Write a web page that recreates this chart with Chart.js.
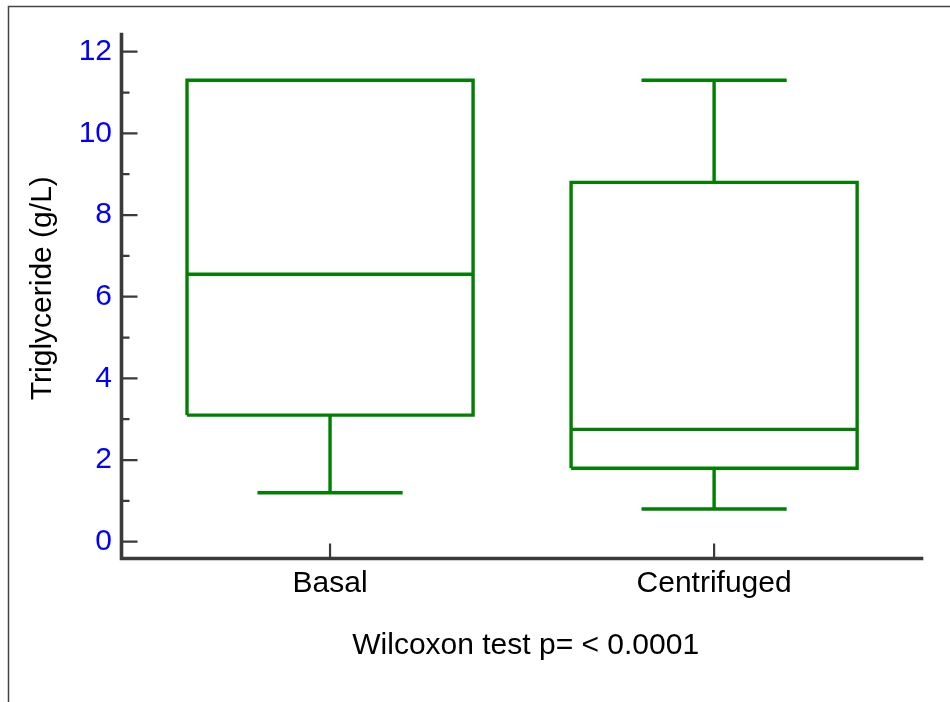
<!DOCTYPE html>
<html>
<head>
<meta charset="utf-8">
<script src="https://cdn.jsdelivr.net/npm/chart.js@4/dist/chart.umd.min.js"></script>
<style>
  html, body { margin: 0; padding: 0; background: #ffffff; }
  #wrap { width: 950px; height: 702px; position: relative; }
</style>
</head>
<body>
<div id="wrap"><canvas id="boxChart"></canvas></div>
<script>
// values
const categories = ["Basal", "Centrifuged"];
const whiskerLow = [1.2, 0.8];
const q1 = [3.1, 1.8];
const median = [6.55, 2.75];
const q3 = [11.3, 8.8];
const whiskerHigh = [11.3, 11.3];

const yTickLabels = [0, 2, 4, 6, 8, 10, 12];
const yMinorTicks = [1, 3, 5, 7, 9, 11];

const boxHalf = 0.3724;   // half box width, in category units
const capHalf = 0.189;    // half whisker cap width

const green = '#008000';
const axisColor = '#3a3a3a';
const font = "'Liberation Sans', Arial, sans-serif";

// one path per category: box, median, whiskers and caps, split by gaps
function boxPath(i) {
  const gap = {x: i, y: null};
  return [
    {x: i - boxHalf, y: q1[i]}, {x: i + boxHalf, y: q1[i]},
    {x: i + boxHalf, y: q3[i]}, {x: i - boxHalf, y: q3[i]},
    {x: i - boxHalf, y: q1[i]}, gap,
    {x: i - boxHalf, y: median[i]}, {x: i + boxHalf, y: median[i]}, gap,
    {x: i, y: q1[i]}, {x: i, y: whiskerLow[i]}, gap,
    {x: i - capHalf, y: whiskerLow[i]}, {x: i + capHalf, y: whiskerLow[i]}, gap,
    {x: i, y: q3[i]}, {x: i, y: whiskerHigh[i]}, gap,
    {x: i - capHalf, y: whiskerHigh[i]}, {x: i + capHalf, y: whiskerHigh[i]}
  ];
}

const datasets = categories.map((c, i) => ({
  label: c,
  data: boxPath(i),
  borderColor: green,
  backgroundColor: green,
  borderWidth: 3.4,
  borderJoinStyle: 'miter',
  borderCapStyle: 'butt',
  pointRadius: 0,
  pointHoverRadius: 0,
  tension: 0,
  spanGaps: false,
  fill: false
}));

// frame, axis lines and inward tick marks
const axesPlugin = {
  id: 'axesPlugin',
  beforeDraw(chart) {
    const ctx = chart.ctx;
    ctx.save();
    ctx.fillStyle = '#ffffff';
    ctx.fillRect(0, 0, chart.width, chart.height);
    ctx.strokeStyle = '#444444';
    ctx.lineWidth = 1.5;
    ctx.beginPath();
    ctx.moveTo(8.5, chart.height + 5);
    ctx.lineTo(8.5, 6.5);
    ctx.lineTo(chart.width + 5, 6.5);
    ctx.stroke();
    ctx.restore();
  },
  afterDraw(chart) {
    const ctx = chart.ctx;
    const area = chart.chartArea;
    const xs = chart.scales.x;
    const ys = chart.scales.y;
    ctx.save();
    ctx.strokeStyle = axisColor;
    ctx.lineCap = 'butt';
    ctx.lineWidth = 2.2;
    ctx.beginPath();
    yTickLabels.forEach(v => {
      const py = ys.getPixelForValue(v);
      ctx.moveTo(area.left, py);
      ctx.lineTo(area.left + 16, py);
    });
    yMinorTicks.forEach(v => {
      const py = ys.getPixelForValue(v);
      ctx.moveTo(area.left, py);
      ctx.lineTo(area.left + 8, py);
    });
    categories.forEach((c, i) => {
      const px = xs.getPixelForValue(i);
      ctx.moveTo(px, area.bottom);
      ctx.lineTo(px, area.bottom - 15);
    });
    ctx.stroke();

    ctx.lineWidth = 3.6;
    ctx.lineCap = 'square';
    ctx.beginPath();
    ctx.moveTo(area.left, area.top);
    ctx.lineTo(area.left, area.bottom);
    ctx.lineTo(area.right, area.bottom);
    ctx.stroke();
    ctx.restore();
  }
};

const boxChartConfig = {
  type: 'line',
  data: { datasets: datasets },
  options: {
    responsive: true,
    maintainAspectRatio: false,
    animation: false,
    events: [],
    layout: {
      padding: { left: 24.5, right: 28.5, top: 34.5, bottom: 38 }
    },
    plugins: {
      legend: { display: false },
      tooltip: { enabled: false }
    },
    scales: {
      x: {
        type: 'linear',
        min: -0.543,
        max: 1.540,
        grid: { display: false, drawTicks: false },
        border: { display: false },
        afterBuildTicks: (scale) => {
          scale.ticks = categories.map((c, i) => ({value: i}));
        },
        afterFit: (scale) => { scale.height = 105.5; },
        ticks: {
          color: '#000000',
          padding: 7,
          autoSkip: false,
          maxRotation: 0,
          font: { family: font, size: 30 },
          callback: (v) => categories[v]
        },
        title: {
          display: true,
          text: ' Wilcoxon test p= < 0.0001',
          color: '#000000',
          padding: 0,
          font: { family: font, size: 30 }
        }
      },
      y: {
        type: 'linear',
        min: -0.411,
        max: 12.421,
        grid: { display: false, drawTicks: false },
        border: { display: false },
        afterBuildTicks: (scale) => {
          scale.ticks = yTickLabels.map(v => ({value: v}));
        },
        afterFit: (scale) => { scale.width = 97; },
        ticks: {
          color: '#0000ff',
          padding: 9.5,
          font: { family: font, size: 30 },
          callback: (v) => String(v)
        },
        title: {
          display: true,
          text: '  Triglyceride (g/L)',
          color: '#000000',
          padding: 0,
          font: { family: font, size: 30 }
        }
      }
    }
  },
  plugins: [axesPlugin]
};

const boxChart = new Chart(document.getElementById('boxChart'), boxChartConfig);
</script>
</body>
</html>
